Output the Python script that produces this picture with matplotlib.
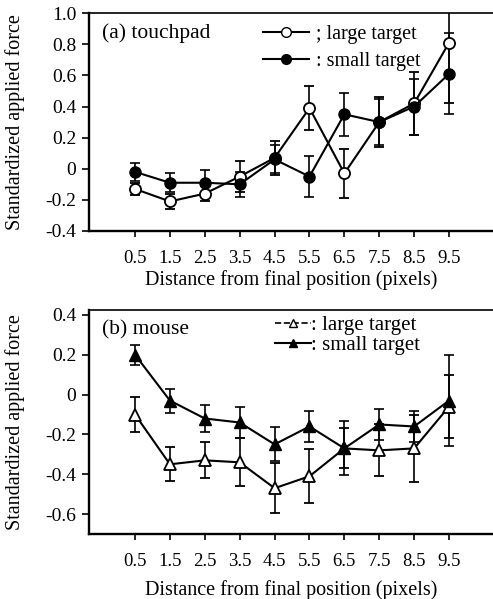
import matplotlib.pyplot as plt
from matplotlib.lines import Line2D

plt.rcParams['font.family'] = ['Liberation Serif', 'DejaVu Serif']
plt.rcParams['font.size'] = 12

# eixo x: distancia da posicao final (pixels)
dist = [0.5, 1.5, 2.5, 3.5, 4.5, 5.5, 6.5, 7.5, 8.5, 9.5]

# (a) touchpad
tp_large = [-0.13, -0.21, -0.16, -0.05, 0.07, 0.39, -0.03, 0.30, 0.42, 0.81]
tp_large_err = [0.04, 0.05, 0.05, 0.10, 0.11, 0.14, 0.16, 0.16, 0.20, 0.39]
tp_small = [-0.02, -0.09, -0.09, -0.10, 0.06, -0.05, 0.35, 0.30, 0.40, 0.61]
tp_small_err = [0.06, 0.06, 0.08, 0.08, 0.09, 0.13, 0.14, 0.15, 0.18, 0.26]

# (b) mouse
ms_large = [-0.10, -0.35, -0.33, -0.34, -0.47, -0.41, -0.27, -0.28, -0.27, -0.06]
ms_large_err = [0.09, 0.085, 0.09, 0.12, 0.125, 0.135, 0.10, 0.13, 0.17, 0.16]
ms_small = [0.20, -0.03, -0.12, -0.14, -0.25, -0.16, -0.27, -0.15, -0.16, -0.03]
ms_small_err = [0.05, 0.06, 0.07, 0.08, 0.085, 0.08, 0.135, 0.08, 0.08, 0.23]

tp_yticks = [-0.4, -0.2, 0, 0.2, 0.4, 0.6, 0.8, 1.0]
tp_ylabels = ['-0.4', '-0.2', '0', '0.2', '0.4', '0.6', '0.8', '1.0']
ms_yticks = [-0.6, -0.4, -0.2, 0, 0.2, 0.4]
ms_ylabels = ['-0.6', '-0.4', '-0.2', '0', '0.2', '0.4']

fig = plt.figure(figsize=(4.93, 5.99), dpi=100)
ax1 = fig.add_axes([0.1805, 0.6144, 0.8195, 0.3636])
ax2 = fig.add_axes([0.1805, 0.1085, 0.8195, 0.374])

estilo = dict(color='black', lw=1.5, capsize=3.5, elinewidth=1.2, capthick=1.2, markersize=8)

ax1.errorbar(dist, tp_large, yerr=tp_large_err, marker='o', mfc='white', mec='black', mew=1.3, **estilo)
ax1.errorbar(dist, tp_small, yerr=tp_small_err, marker='o', mfc='black', mec='black', **estilo)
ax1.set_ylim(-0.4, 1.0)
ax1.set_yticks(tp_yticks)
ax1.set_yticklabels(tp_ylabels)
ax1.text(0.032, 0.91, '(a) touchpad', transform=ax1.transAxes, fontsize=15.5, va='center')
h1 = [Line2D([], [], color='black', lw=1.5, marker='o', mfc='white', ms=7),
      Line2D([], [], color='black', lw=1.5, marker='o', mfc='black', ms=7)]
ax1.legend(h1, ['; large target', ': small target'], loc='upper left', bbox_to_anchor=(0.385, 1.03),
           frameon=False, handlelength=2.3, handletextpad=0.35, fontsize=14.5, labelspacing=0.4)

ax2.errorbar(dist, ms_large, yerr=ms_large_err, marker='^', mfc='white', mec='black', mew=1.3, **estilo)
ax2.errorbar(dist, ms_small, yerr=ms_small_err, marker='^', mfc='black', mec='black', **estilo)
ax2.set_ylim(-0.7, 0.425)
ax2.set_yticks(ms_yticks)
ax2.set_yticklabels(ms_ylabels)
ax2.text(0.032, 0.91, '(b) mouse', transform=ax2.transAxes, fontsize=15.5, va='center')
h2 = [Line2D([], [], color='black', lw=1.2, ls='--', marker='^', mfc='white', ms=6),
      Line2D([], [], color='black', lw=1.5, marker='^', mfc='black', ms=6)]
ax2.legend(h2, [': large target', ': small target'], loc='upper left', bbox_to_anchor=(0.415, 1.06),
           frameon=False, handlelength=1.7, handletextpad=0.0, fontsize=15, labelspacing=0.05)

for ax in (ax1, ax2):
    ax.set_xlim(-0.82, 10.76)
    ax.set_xticks(dist)
    ax.set_xticklabels([str(d) for d in dist])
    ax.spines['right'].set_visible(False)
    ax.spines['left'].set_linewidth(1.7)
    ax.spines['bottom'].set_linewidth(1.7)
    ax.spines['top'].set_linewidth(1.2)
    ax.tick_params(axis='x', direction='out', length=4, width=1.2, pad=10, labelsize=13.5)
    ax.tick_params(axis='y', direction='out', length=5, width=1.2, pad=4, labelsize=14)
    ax.set_ylabel('Standardized applied force', fontsize=14.5)
    ax.yaxis.set_label_coords(-0.158, 0.5)

ax1.set_xlabel('Distance from final position (pixels)', fontsize=14.5, labelpad=2)
ax2.set_xlabel('Distance from final position (pixels)', fontsize=14.5, labelpad=7)

fig.savefig('out.png', dpi=100)
